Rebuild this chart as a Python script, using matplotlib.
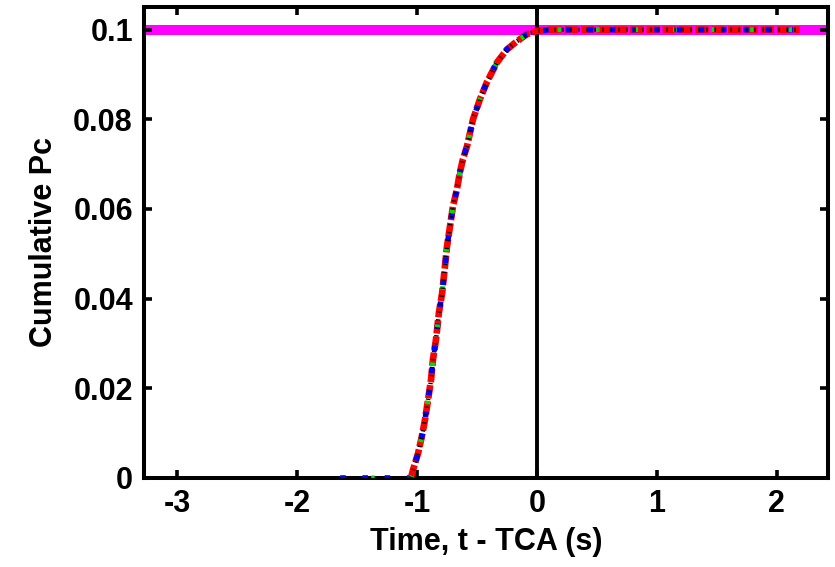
import numpy as np
import matplotlib.pyplot as plt

# cumulative Pc (t - TCA in s)
t_flat = [-1.64, -1.33, -1.05]
pc_flat = [0.0, 0.0, 0.0]

t_rise = [-1.05, -1.033, -0.99, -0.96, -0.933, -0.908, -0.883, -0.867, -0.842,
          -0.817, -0.79, -0.767, -0.75, -0.725, -0.70, -0.667, -0.642, -0.617,
          -0.583, -0.533, -0.475, -0.417, -0.333, -0.25, -0.167, -0.083, 0.0,
          0.1, 0.5, 1.0, 1.5, 2.19]
pc_rise = [0.0, 0.0018, 0.0056, 0.0092, 0.013, 0.0174, 0.0219, 0.0264, 0.0308,
           0.0369, 0.0413, 0.0472, 0.0516, 0.0561, 0.0606, 0.0644, 0.0682, 0.0711,
           0.074, 0.080, 0.0845, 0.0883, 0.0927, 0.0956, 0.0974, 0.099, 0.0997,
           0.1, 0.1, 0.1, 0.1, 0.1]

pc_total = 0.1
x_ticks = [-3, -2, -1, 0, 1, 2]
y_ticks = [0, 0.02, 0.04, 0.06, 0.08, 0.1]
y_labels = ['0', '0.02', '0.04', '0.06', '0.08', '0.1']

plt.rcParams['font.family'] = ['Liberation Sans', 'DejaVu Sans']
plt.rcParams['font.weight'] = 'bold'

fig = plt.figure(figsize=(8.35, 5.67), dpi=100)
ax = fig.add_axes([0.1725, 0.157, 0.819, 0.831])

ax.axhline(pc_total, color='#ff00ff', lw=7.2, zorder=1)
ax.axvline(0, color='black', lw=2.8, zorder=2)

t_all = t_flat + t_rise[1:]
pc_all = pc_flat + pc_rise[1:]

# several nearly identical estimates overlaid
ax.plot(t_rise, pc_rise, color='red', lw=4.8, ls=(0, (2.0, 0.45)), zorder=3)
ax.plot(t_all, pc_all, color='blue', lw=4.0, ls=(0, (1.0, 3.0)), zorder=4)
ax.plot(t_all, pc_all, color='#00dd00', lw=3.6, ls=(1.5, (0.7, 7)), zorder=5)
ax.plot(t_rise, pc_rise, color='black', lw=3.2, ls=(0, (0.3, 1.5)), zorder=6)

ax.set_xlim(-3.275, 2.425)
ax.set_ylim(0, 0.1051)
ax.set_xticks(x_ticks)
ax.set_xticklabels([str(v) for v in x_ticks])
ax.set_yticks(y_ticks)
ax.set_yticklabels(y_labels)

ax.tick_params(direction='in', length=6, width=2.6, labelsize=22,
               top=True, right=True, pad=8)
for s in ax.spines.values():
    s.set_linewidth(2.9)

ax.set_xlabel('Time, t - TCA (s)', fontsize=22, fontweight='bold', labelpad=6)
ax.set_ylabel('Cumulative Pc', fontsize=22, fontweight='bold', labelpad=10)

fig.savefig('out.png', dpi=100)
